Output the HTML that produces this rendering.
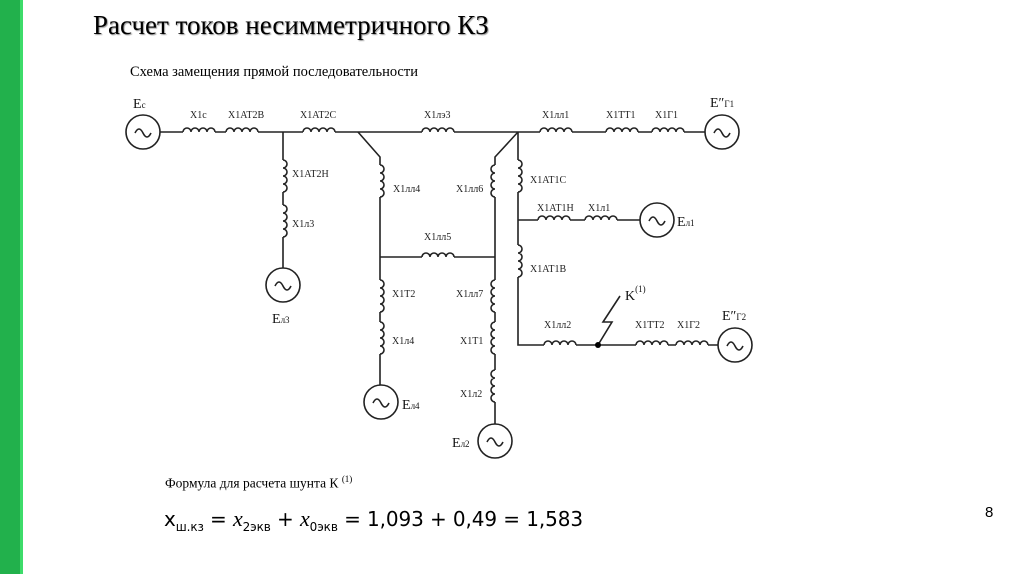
<!DOCTYPE html>
<html><head><meta charset="utf-8"><style>
body{margin:0;width:1024px;height:574px;background:#fff;position:relative;overflow:hidden;font-family:"Liberation Serif","Noto Serif CJK SC",serif}
.bar{position:absolute;left:0;top:0;width:20px;height:574px;background:#22b14c;border-right:3px solid #3ddc6a}
.t{position:absolute;white-space:nowrap;color:#000}
</style></head><body>
<div class="bar"></div>
<div class="t" style="left:93px;top:10px;font-size:27px;text-shadow:1px 1px 1px #999">Расчет токов несимметричного КЗ</div>
<div class="t" style="left:130px;top:64px;font-size:14.5px">Схема замещения прямой последовательности</div>
<svg width="1024" height="574" style="position:absolute;left:0;top:0" font-family="Liberation Serif, serif" font-size="10">
<g fill="none" stroke="#222" stroke-width="1.6">
<path d="M160 132H183M215 132H226M258 132H303M335 132H422M454 132H540M572 132H606M638 132H652M684 132H705"/>
<path d="M183 132a4 4 0 0 1 8 0a4 4 0 0 1 8 0a4 4 0 0 1 8 0a4 4 0 0 1 8 0"/>
<path d="M226 132a4 4 0 0 1 8 0a4 4 0 0 1 8 0a4 4 0 0 1 8 0a4 4 0 0 1 8 0"/>
<path d="M303 132a4 4 0 0 1 8 0a4 4 0 0 1 8 0a4 4 0 0 1 8 0a4 4 0 0 1 8 0"/>
<path d="M422 132a4 4 0 0 1 8 0a4 4 0 0 1 8 0a4 4 0 0 1 8 0a4 4 0 0 1 8 0"/>
<path d="M540 132a4 4 0 0 1 8 0a4 4 0 0 1 8 0a4 4 0 0 1 8 0a4 4 0 0 1 8 0"/>
<path d="M606 132a4 4 0 0 1 8 0a4 4 0 0 1 8 0a4 4 0 0 1 8 0a4 4 0 0 1 8 0"/>
<path d="M652 132a4 4 0 0 1 8 0a4 4 0 0 1 8 0a4 4 0 0 1 8 0a4 4 0 0 1 8 0"/>
<circle cx="143" cy="132" r="17"/><circle cx="722" cy="132" r="17"/>
<path d="M283 132V160M283 192V205M283 237V268"/>
<path d="M283 160a4 4 0 0 1 0 8a4 4 0 0 1 0 8a4 4 0 0 1 0 8a4 4 0 0 1 0 8"/>
<path d="M283 205a4 4 0 0 1 0 8a4 4 0 0 1 0 8a4 4 0 0 1 0 8a4 4 0 0 1 0 8"/>
<circle cx="283" cy="285" r="17"/>
<path d="M358 132L380 157V165M380 197V280M380 312V322M380 354V385"/>
<path d="M380 165a4 4 0 0 1 0 8a4 4 0 0 1 0 8a4 4 0 0 1 0 8a4 4 0 0 1 0 8"/>
<path d="M380 280a4 4 0 0 1 0 8a4 4 0 0 1 0 8a4 4 0 0 1 0 8a4 4 0 0 1 0 8"/>
<path d="M380 322a4 4 0 0 1 0 8a4 4 0 0 1 0 8a4 4 0 0 1 0 8a4 4 0 0 1 0 8"/>
<circle cx="381" cy="402" r="17"/>
<path d="M380 257H422M454 257H495"/>
<path d="M422 257a4 4 0 0 1 8 0a4 4 0 0 1 8 0a4 4 0 0 1 8 0a4 4 0 0 1 8 0"/>
<path d="M518 132L495 157V165M495 197V280M495 312V322M495 354V370M495 402V424"/>
<path d="M495 165a4 4 0 0 0 0 8a4 4 0 0 0 0 8a4 4 0 0 0 0 8a4 4 0 0 0 0 8"/>
<path d="M495 280a4 4 0 0 0 0 8a4 4 0 0 0 0 8a4 4 0 0 0 0 8a4 4 0 0 0 0 8"/>
<path d="M495 322a4 4 0 0 0 0 8a4 4 0 0 0 0 8a4 4 0 0 0 0 8a4 4 0 0 0 0 8"/>
<path d="M495 370a4 4 0 0 0 0 8a4 4 0 0 0 0 8a4 4 0 0 0 0 8a4 4 0 0 0 0 8"/>
<circle cx="495" cy="441" r="17"/>
<path d="M518 132V160M518 192V245M518 277V345H544M576 345H636M668 345H676M708 345H718"/>
<path d="M518 160a4 4 0 0 1 0 8a4 4 0 0 1 0 8a4 4 0 0 1 0 8a4 4 0 0 1 0 8"/>
<path d="M518 245a4 4 0 0 1 0 8a4 4 0 0 1 0 8a4 4 0 0 1 0 8a4 4 0 0 1 0 8"/>
<path d="M518 220H538M570 220H585M617 220H640"/>
<path d="M538 220a4 4 0 0 1 8 0a4 4 0 0 1 8 0a4 4 0 0 1 8 0a4 4 0 0 1 8 0"/>
<path d="M585 220a4 4 0 0 1 8 0a4 4 0 0 1 8 0a4 4 0 0 1 8 0a4 4 0 0 1 8 0"/>
<circle cx="657" cy="220" r="17"/>
<path d="M544 345a4 4 0 0 1 8 0a4 4 0 0 1 8 0a4 4 0 0 1 8 0a4 4 0 0 1 8 0"/>
<path d="M636 345a4 4 0 0 1 8 0a4 4 0 0 1 8 0a4 4 0 0 1 8 0a4 4 0 0 1 8 0"/>
<path d="M676 345a4 4 0 0 1 8 0a4 4 0 0 1 8 0a4 4 0 0 1 8 0a4 4 0 0 1 8 0"/>
<circle cx="735" cy="345" r="17"/>
<path d="M620 296L603 322L612 322L598 345"/>
<path d="M135 133q4-8 8 0t8 0M714 133q4-8 8 0t8 0M275 286q4-8 8 0t8 0M373 403q4-8 8 0t8 0M487 442q4-8 8 0t8 0M649 221q4-8 8 0t8 0M727 346q4-8 8 0t8 0"/>
</g>
<circle cx="598" cy="345" r="3" fill="#000"/>
<g fill="#222">
<text x="190" y="118">X1c</text><text x="228" y="118">X1AT2B</text><text x="300" y="118">X1AT2C</text>
<text x="424" y="118">X1лэ3</text><text x="542" y="118">X1лл1</text><text x="606" y="118">X1TT1</text><text x="655" y="118">X1Г1</text>
<text x="292" y="177">X1AT2H</text><text x="292" y="227">X1л3</text>
<text x="393" y="192">X1лл4</text><text x="456" y="192">X1лл6</text>
<text x="424" y="240">X1лл5</text>
<text x="530" y="183">X1AT1C</text><text x="537" y="211">X1AT1H</text><text x="588" y="211">X1л1</text>
<text x="530" y="272">X1AT1B</text>
<text x="392" y="297">X1T2</text><text x="456" y="297">X1лл7</text>
<text x="392" y="344">X1л4</text><text x="460" y="344">X1T1</text><text x="460" y="397">X1л2</text>
<text x="544" y="328">X1лл2</text><text x="635" y="328">X1TT2</text><text x="677" y="328">X1Г2</text>
</g>
<g fill="#111" font-size="14">
<text x="133" y="108">E<tspan font-size="9">c</tspan></text>
<text x="710" y="107">E″<tspan font-size="9">Г1</tspan></text>
<text x="722" y="320">E″<tspan font-size="9">Г2</tspan></text>
<text x="272" y="323">E<tspan font-size="9">л3</tspan></text>
<text x="402" y="409">E<tspan font-size="9">л4</tspan></text>
<text x="452" y="447">E<tspan font-size="9">л2</tspan></text>
<text x="677" y="226">E<tspan font-size="9">л1</tspan></text>
<text x="625" y="300">K<tspan font-size="9" dy="-8">(1)</tspan></text>
</g>
</svg>
<div class="t" style="left:165px;top:474px;font-size:13.5px">Формула для расчета шунта К <sup style="font-size:9px">(1)</sup></div>
<div class="t" style="left:164px;top:506px;font-size:20px;font-family:'DejaVu Sans','Liberation Sans',sans-serif;letter-spacing:-0.1px">x<sub style="font-size:12px">ш.кз</sub> = <i style="font-family:'Liberation Serif',serif;font-size:22px">x</i><sub style="font-size:12px">2экв</sub> + <i style="font-family:'Liberation Serif',serif;font-size:22px">x</i><sub style="font-size:12px">0экв</sub> = 1,093 + 0,49 = 1,583</div>
<div class="t" style="left:985px;top:504px;font-size:15px;font-family:'Liberation Sans',sans-serif">8</div>
</body></html>
